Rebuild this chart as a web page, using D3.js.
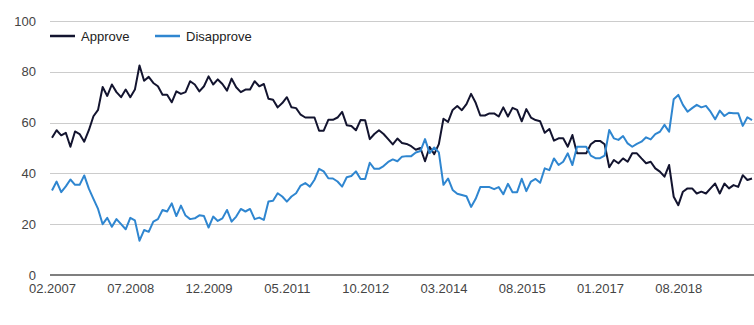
<!DOCTYPE html>
<html>
<head>
<meta charset="utf-8">
<script src="https://cdn.jsdelivr.net/npm/d3@7"></script>
<style>
  html, body { margin: 0; padding: 0; background: #fff; }
  svg { display: block; font-family: Arial, "Liberation Sans", sans-serif; }
</style>
</head>
<body>
<svg id="chart" width="754" height="325"></svg>
<script>
// ---- data ----
const seriesNames = ["Approve", "Disapprove"];
const seriesColors = ["#13142f", "#2f86d0"];

const approve = [
  54, 57, 55, 56, 50.5, 56.5, 55.5, 52.5, 57, 62.5,
  65, 74, 70.5, 75, 72, 70, 73, 70, 73, 82.5,
  76.5, 78, 75.6, 74.3, 71, 71, 68, 72.3, 71.3, 72,
  76.3, 75, 72.3, 74.3, 78.2, 75, 77, 75.2, 72.6, 77.3,
  73.9, 72, 73, 73, 76.3, 74.3, 75.2, 69.4, 69, 66,
  67.7, 70, 66, 65.7, 63.1, 62, 62, 62, 56.8, 56.8,
  61.1, 61.1, 62, 64.2, 59, 58.7, 57, 61, 60.9, 53.5,
  55.5, 57, 55.5, 53.5, 51.4, 53.7, 52, 51.6, 50.7, 49.3,
  50, 44.8, 50.4, 47.6, 51.5, 61.5, 60.3, 65, 66.5, 64.9,
  67.3, 71.3, 67.8, 62.8, 62.8, 63.6, 63.6, 62.4, 66, 62.4,
  65.8, 65, 60.5, 65.3, 62, 61, 60.5, 56, 57.5, 52.9,
  53.8, 53.8, 50.5, 55.1, 47.9, 47.9, 47.9, 51.5, 52.8, 52.8,
  51.5, 42.4, 45.3, 44, 45.9, 44.6, 47.9, 47.9, 45.9, 44,
  44.6, 42, 40.7, 38.7, 43.3, 30.8, 27.5, 32.8, 34.1, 34.1,
  32.1, 32.8, 32.1, 34.1, 36, 32.1, 36, 34.1, 35.4, 34.7,
  39.3, 37.4, 38
];

const disapprove = [
  33.3, 36.8, 32.6, 34.9, 37.6, 35.5, 35.5, 39.2, 34, 30,
  26, 20, 22.5, 19, 22, 20, 18, 22.5, 21.5, 13.5,
  17.7, 17, 21, 22, 25.6, 25, 28.2, 23.2, 27.3, 23.4,
  22, 22.3, 23.5, 23.2, 18.7, 23, 21.3, 22.3, 25.6, 21,
  23, 26, 25, 26, 22, 22.6, 21.7, 28.9, 29.2, 32.2,
  30.9, 28.9, 30.9, 32.2, 35.2, 36.2, 34.8, 37.5, 41.8, 40.8,
  38.1, 38, 36.8, 34.8, 38.5, 39, 40.8, 37.8, 37.8, 44.2,
  41.8, 41.8, 42.9, 44.5, 45.5, 44.8, 46.6, 46.8, 46.8, 48.2,
  48.8, 53.5, 48, 50.2, 48.3, 35.5, 38, 33.5, 32, 31.5,
  31, 26.8, 30, 34.6, 34.6, 34.6, 33.8, 34.6, 31.8, 35.9,
  32.6, 32.6, 37.9, 33, 36.8, 37.8, 36.3, 42, 41.3, 45.9,
  43.3, 44.6, 47.9, 43.3, 50.5, 50.5, 50.5, 47, 46, 46,
  47, 57.1, 53.8, 53.2, 54.7, 51.8, 50.5, 51.6, 52.5, 54.2,
  53.4, 55.5, 56.4, 59.1, 56.4, 69.2, 70.9, 67, 64.3, 65.7,
  67, 66, 66.6, 64.3, 61.3, 64.7, 62.6, 63.9, 63.7, 63.7,
  58.7, 62.1, 61
];

const xTickLabels = ["02.2007", "07.2008", "12.2009", "05.2011", "10.2012",
                     "03.2014", "08.2015", "01.2017", "08.2018"];
const yTicks = [0, 20, 40, 60, 80, 100];
const firstMonth = "02.2007";
const missingMonths = ["06.2017", "07.2017"];

// category labels: monthly periods (two months missing in the source)
const categories = [];
{
  let [m, y] = firstMonth.split(".").map(Number);
  while (categories.length < approve.length) {
    const lab = String(m).padStart(2, "0") + "." + y;
    if (!missingMonths.includes(lab)) categories.push(lab);
    m++; if (m > 12) { m = 1; y++; }
  }
}

// ---- layout ----
const svg = d3.select("#chart");
const W = 754, H = 325;
const plotLeft = 50, plotRight = 754;

const x = d3.scalePoint().domain(categories).range([52, 752]).padding(0);
const y = d3.scaleLinear().domain([0, 100]).range([275, 21]);

svg.append("rect").attr("width", W).attr("height", H).attr("fill", "#fff");

// gridlines
svg.append("g").selectAll("line")
  .data(yTicks.filter(d => d !== 0))
  .join("line")
  .attr("x1", plotLeft).attr("x2", plotRight)
  .attr("y1", d => Math.round(y(d)) + 0.5).attr("y2", d => Math.round(y(d)) + 0.5)
  .attr("stroke", "#cccccc").attr("stroke-width", 1);

// y axis labels
const yAxis = d3.axisLeft(y).tickValues(yTicks).tickSize(0).tickPadding(0);
const gy = svg.append("g").attr("transform", "translate(36,0)").call(yAxis);
gy.select(".domain").remove();
gy.selectAll("text").attr("font-size", 13).attr("fill", "#444")
  .attr("font-family", "Arial, 'Liberation Sans', sans-serif");

// x axis
const xAxis = d3.axisBottom(x).tickValues(xTickLabels).tickSize(0).tickPadding(0);
const gx = svg.append("g").attr("transform", "translate(0,284)").call(xAxis);
gx.select(".domain").remove();
gx.selectAll("text").attr("font-size", 13).attr("fill", "#444")
  .attr("font-family", "Arial, 'Liberation Sans', sans-serif");

// baseline
svg.append("line")
  .attr("x1", plotLeft).attr("x2", plotRight)
  .attr("y1", y(0)).attr("y2", y(0))
  .attr("stroke", "#555").attr("stroke-width", 1.5);

// lines
const series = [approve, disapprove];
const line = d3.line().x((d, i) => x(categories[i])).y(d => y(d));
svg.append("g").selectAll("path")
  .data(series)
  .join("path")
  .attr("d", d => line(d))
  .attr("fill", "none")
  .attr("stroke", (d, i) => seriesColors[i])
  .attr("stroke-width", 2)
  .attr("stroke-linejoin", "round");

// legend
const legendX = [50, 155];
const lg = svg.append("g").selectAll("g")
  .data(seriesNames)
  .join("g")
  .attr("transform", (d, i) => `translate(${legendX[i]},36)`);
lg.append("line").attr("x1", 0).attr("x2", 25).attr("y1", 0).attr("y2", 0)
  .attr("stroke", (d, i) => seriesColors[i]).attr("stroke-width", 2.5);
lg.append("text").attr("x", 31).attr("y", 4.5)
  .attr("font-size", 13).attr("fill", "#222")
  .attr("font-family", "Arial, 'Liberation Sans', sans-serif")
  .text(d => d);
</script>
</body>
</html>
